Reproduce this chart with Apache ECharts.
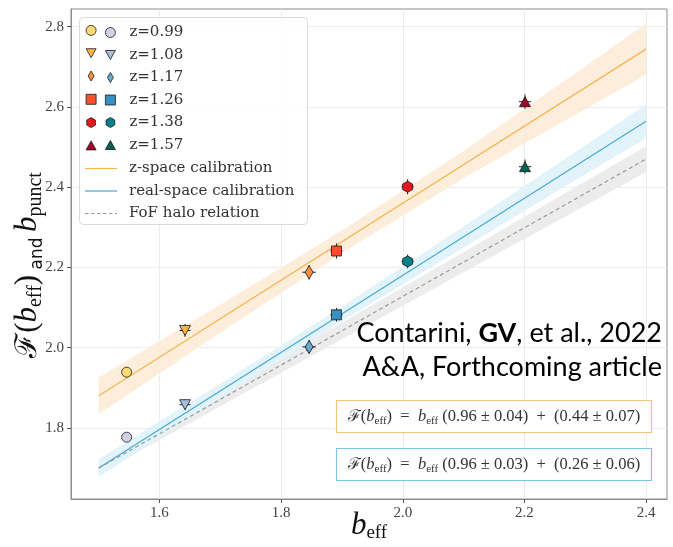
<!DOCTYPE html>
<html><head><meta charset="utf-8">
<script src="https://cdn.jsdelivr.net/npm/echarts@6/dist/echarts.min.js"></script>
<style>html,body{margin:0;padding:0;background:#fff}#c{width:673px;height:547px}</style>
</head><body><div id="c"></div>
<script>
// ---- data ----
const redshiftLabels = ['z=0.99', 'z=1.08', 'z=1.17', 'z=1.26', 'z=1.38', 'z=1.57'];
const bEff       = [1.546, 1.642, 1.846, 1.891, 2.008, 2.201];
const zSpaceF    = [1.939, 2.043, 2.188, 2.241, 2.401, 2.613];
const realSpaceF = [1.777, 1.858, 2.002, 2.082, 2.215, 2.451];
const xErr       = [0.007, 0.009, 0.011, 0.010, 0.010, 0.010];
const zYErr      = [0.012, 0.016, 0.018, 0.019, 0.019, 0.018];
const realYErr   = [0.009, 0.013, 0.017, 0.017, 0.017, 0.018];

const bandB        = [1.5, 1.7, 1.9, 2.1, 2.3, 2.4];
const zLineY       = [1.88, 2.072, 2.264, 2.456, 2.648, 2.744];
const zBandHalf    = [0.046, 0.035, 0.028, 0.034, 0.053, 0.064];
const realLineY    = [1.70, 1.892, 2.084, 2.276, 2.468, 2.564];
const realBandHalf = [0.022, 0.018, 0.018, 0.026, 0.036, 0.042];
const fofLineY     = [1.70, 1.871, 2.042, 2.213, 2.384, 2.47];
const fofBandHalf  = [0.014, 0.017, 0.021, 0.025, 0.030, 0.032];

const lineNames = ['z-space calibration', 'real-space calibration', 'FoF halo relation'];
const xTicks = [1.6, 1.8, 2.0, 2.2, 2.4];
const yTicks = [1.8, 2.0, 2.2, 2.4, 2.6, 2.8];

// ---- styles ----
const warmColors = ['#fed976', '#feb24c', '#fd8d3c', '#fc4e2a', '#e31a1c', '#a50026'];
const coolColors = ['#d0d1e6', '#a6bddb', '#67a9cf', '#3690c0', '#02818a', '#01634f'];
const symbols = [
  'path://M0,-1 A1,1 0 1,1 0,1 A1,1 0 1,1 0,-1 Z',
  'path://M-1,-0.9 L1,-0.9 L0,0.9 Z',
  'path://M0,-1 L0.6,0 L0,1 L-0.6,0 Z',
  'path://M-1,-1 L1,-1 L1,1 L-1,1 Z',
  'path://M0,-1 L0.866,-0.5 L0.866,0.5 L0,1 L-0.866,0.5 L-0.866,-0.5 Z',
  'path://M-1,0.9 L1,0.9 L0,-0.9 Z'
];
const symSizes = [10, [11, 10], [8, 13], 10, [10, 11], [11, 10]];
const edge = {borderColor: '#1a1a1a', borderWidth: 0.8};

function scatterSeries(name, vals, colors, i) {
  return {
    name, type: 'scatter', z: 6, silent: true,
    data: [[bEff[i], vals[i]]],
    symbol: symbols[i], symbolSize: symSizes[i],
    itemStyle: Object.assign({color: colors[i], opacity: 1}, edge)
  };
}
function bandSeries(center, half, color) {
  return {
    type: 'custom', z: 1, silent: true,
    data: bandB.map((b, i) => [b, center[i] - half[i], center[i] + half[i]]),
    encode: {x: 0, y: [1, 2]},
    renderItem(params, api) {
      if (params.dataIndex !== 0) return null;
      const up = bandB.map((b, i) => api.coord([b, center[i] + half[i]]));
      const lo = bandB.map((b, i) => api.coord([b, center[i] - half[i]])).reverse();
      return {type: 'polygon', shape: {points: up.concat(lo)}, style: {fill: color}};
    }
  };
}
function lineSeries(name, ys, color, type) {
  return {
    name, type: 'line', z: 3, silent: true, symbol: 'none',
    data: [[bandB[0], ys[0]], [bandB[bandB.length - 1], ys[ys.length - 1]]],
    lineStyle: {color, width: 1.2, type: type || 'solid'},
    itemStyle: {color}
  };
}
const errData = [];
bEff.forEach((b, i) => {
  errData.push([b, zSpaceF[i], xErr[i], zYErr[i]]);
  errData.push([b, realSpaceF[i], xErr[i], realYErr[i]]);
});
const errSeries = {
  type: 'custom', z: 4, silent: true, data: errData, encode: {x: 0, y: 1},
  renderItem(params, api) {
    const b = api.value(0), y = api.value(1), xe = api.value(2), ye = api.value(3);
    const p1 = api.coord([b, y - ye]), p2 = api.coord([b, y + ye]);
    const p3 = api.coord([b - xe, y]), p4 = api.coord([b + xe, y]);
    const st = {stroke: '#222', lineWidth: 1};
    return {type: 'group', children: [
      {type: 'line', shape: {x1: p1[0], y1: p1[1], x2: p2[0], y2: p2[1]}, style: st},
      {type: 'line', shape: {x1: p3[0], y1: p3[1], x2: p4[0], y2: p4[1]}, style: st}
    ]};
  }
};

const warmNames = redshiftLabels.map(l => 'zs ' + l);
const series = [
  bandSeries(fofLineY, fofBandHalf, '#ececec'),
  bandSeries(realLineY, realBandHalf, '#e2f3fa'),
  bandSeries(zLineY, zBandHalf, '#fdeedb'),
  lineSeries(lineNames[0], zLineY, '#f6b452'),
  lineSeries(lineNames[1], realLineY, '#47a9d6'),
  lineSeries(lineNames[2], fofLineY, '#9a9a9a', [4, 3]),
  errSeries
];
redshiftLabels.forEach((l, i) => {
  series.push(scatterSeries(warmNames[i], zSpaceF, warmColors, i));
  series.push(scatterSeries(l, realSpaceF, coolColors, i));
});

const serif = 'Liberation Serif';
const legText = {fontFamily: 'DejaVu Serif', fontSize: 15, color: '#333', lineHeight: 15};
const legBase = {orient: 'vertical', padding: 0, itemHeight: 10, itemGap: 7.5, z: 10,
  selectedMode: false, textStyle: legText};
const solidIcon = 'path://M0,0 L32,0 L32,1.2 L0,1.2 Z';
const dashIcon = 'path://M0,0 L3.5,0 L3.5,1.2 L0,1.2 Z M6,0 L9.5,0 L9.5,1.2 L6,1.2 Z M12,0 L15.5,0 L15.5,1.2 L12,1.2 Z M18,0 L21.5,0 L21.5,1.2 L18,1.2 Z M24,0 L27.5,0 L27.5,1.2 L24,1.2 Z M30,0 L32,0 L32,1.2 L30,1.2 Z';

const fTok = {fontFamily: 'DejaVu Serif', fontSize: 16, fill: '#333', lineHeight: 20};
const bTok = {fontFamily: serif, fontStyle: 'italic', fontSize: 16.5, fill: '#333', lineHeight: 20};
const sTok = {fontFamily: serif, fontSize: 11, fill: '#333', lineHeight: 13, verticalAlign: 'bottom'};

const chart = echarts.init(document.getElementById('c'), null, {renderer: 'canvas'});
chart.setOption({
  animation: false,
  backgroundColor: '#fff',
  grid: {left: 71, right: 6, top: 9, bottom: 48, show: true, borderColor: '#8c8c8c', borderWidth: 1,
    containLabel: false, outerBoundsMode: 'none'},
  xAxis: {
    type: 'value', min: 1.4545, max: 2.4345,
    axisLine: {show: true, lineStyle: {color: '#8c8c8c'}},
    axisTick: {show: true, length: 4, customValues: xTicks, lineStyle: {color: '#555'}},
    axisLabel: {customValues: xTicks, formatter: v => v.toFixed(1), margin: 7,
      fontFamily: serif, fontSize: 15, color: '#444'},
    splitLine: {show: true, lineStyle: {color: '#ececec', width: 1}},
    name: '{b|b}{s|eff}', nameLocation: 'middle', nameGap: 10, nameMoveOverlap: false,
    nameTextStyle: {rich: {
      b: {fontFamily: serif, fontStyle: 'italic', fontSize: 31, lineHeight: 34, color: '#111'},
      s: {fontFamily: serif, fontSize: 19, lineHeight: 17, verticalAlign: 'bottom', color: '#111'}
    }}
  },
  yAxis: {
    type: 'value', min: 1.623, max: 2.844,
    axisLine: {show: true, lineStyle: {color: '#8c8c8c'}},
    axisTick: {show: true, length: 4, customValues: yTicks, lineStyle: {color: '#555'}},
    axisLabel: {customValues: yTicks, formatter: v => v.toFixed(1), margin: 7,
      fontFamily: serif, fontSize: 15, color: '#444'},
    splitLine: {show: true, lineStyle: {color: '#ececec', width: 1}},
    name: '{f|ℱ}{p|(}{b|b}{s|eff}{p|)}{a| and }{b|b}{s|punct}',
    nameLocation: 'middle', nameRotate: 90, nameGap: 25, nameMoveOverlap: false,
    nameTextStyle: {padding: [0, 22, 0, 0], rich: {
      f: {fontFamily: 'DejaVu Serif', fontSize: 30, lineHeight: 36, color: '#111'},
      p: {fontFamily: serif, fontSize: 31, lineHeight: 36, color: '#111'},
      b: {fontFamily: serif, fontStyle: 'italic', fontSize: 31, lineHeight: 36, color: '#111'},
      s: {fontFamily: serif, fontSize: 20, lineHeight: 17, verticalAlign: 'bottom', color: '#111'},
      a: {fontFamily: 'DejaVu Sans', fontSize: 17, lineHeight: 27, verticalAlign: 'bottom', color: '#111'}
    }}
  },
  legend: [
    Object.assign({}, legBase, {data: warmNames, left: 85.7, top: 25, itemWidth: 10, itemGap: 12.5,
      formatter: () => '', itemStyle: edge}),
    Object.assign({}, legBase, {data: redshiftLabels, left: 105, top: 25, itemWidth: 10,
      itemStyle: edge, textStyle: Object.assign({}, legText, {padding: [0, 0, 0, 9]})}),
    Object.assign({}, legBase, {
      data: [{name: lineNames[0], icon: solidIcon}, {name: lineNames[1], icon: solidIcon},
             {name: lineNames[2], icon: dashIcon}],
      left: 85, top: 161, itemWidth: 32,
      textStyle: Object.assign({}, legText, {padding: [0, 0, 0, 7]})})
  ],
  graphic: [
    {type: 'rect', z: 8, shape: {x: 79.5, y: 17.5, width: 228, height: 207, r: 4},
      style: {fill: 'rgba(255,255,255,0.9)', stroke: '#dadada', lineWidth: 1}},
    {type: 'text', z: 12, x: 662, y: 333,
      style: {text: 'Contarini, {g|GV}, et al., 2022', fontFamily: 'Lato', fontSize: 27, fill: '#000',
        align: 'right', verticalAlign: 'middle',
        rich: {g: {fontFamily: 'Lato', fontSize: 27, fontWeight: 'bold', fill: '#000'}}}},
    {type: 'text', z: 12, x: 662, y: 367,
      style: {text: 'A&A, Forthcoming article', fontFamily: 'Lato', fontSize: 27, fill: '#000',
        align: 'right', verticalAlign: 'middle'}},
    {type: 'rect', z: 12, shape: {x: 336.5, y: 400.5, width: 315, height: 32},
      style: {fill: '#fff', stroke: '#f6c27c', lineWidth: 1.2}},
    {type: 'rect', z: 12, shape: {x: 336.5, y: 448.5, width: 315, height: 32},
      style: {fill: '#fff', stroke: '#7fc4e2', lineWidth: 1.2}},
    {type: 'text', z: 13, x: 494, y: 417,
      style: {text: '{f|ℱ}{r|(}{b|b}{s|eff}{r|)  =  }{b|b}{s|eff}{r| (0.96 ± 0.04)  +  (0.44 ± 0.07)}',
        fontFamily: serif, fontSize: 16.5, fill: '#333', align: 'center', verticalAlign: 'middle',
        rich: {f: fTok, b: bTok, s: sTok, r: {fontFamily: serif, fontSize: 16.5, fill: '#333', lineHeight: 20}}}},
    {type: 'text', z: 13, x: 494, y: 465,
      style: {text: '{f|ℱ}{r|(}{b|b}{s|eff}{r|)  =  }{b|b}{s|eff}{r| (0.96 ± 0.03)  +  (0.26 ± 0.06)}',
        fontFamily: serif, fontSize: 16.5, fill: '#333', align: 'center', verticalAlign: 'middle',
        rich: {f: fTok, b: bTok, s: sTok, r: {fontFamily: serif, fontSize: 16.5, fill: '#333', lineHeight: 20}}}}
  ],
  series
});
</script></body></html>
